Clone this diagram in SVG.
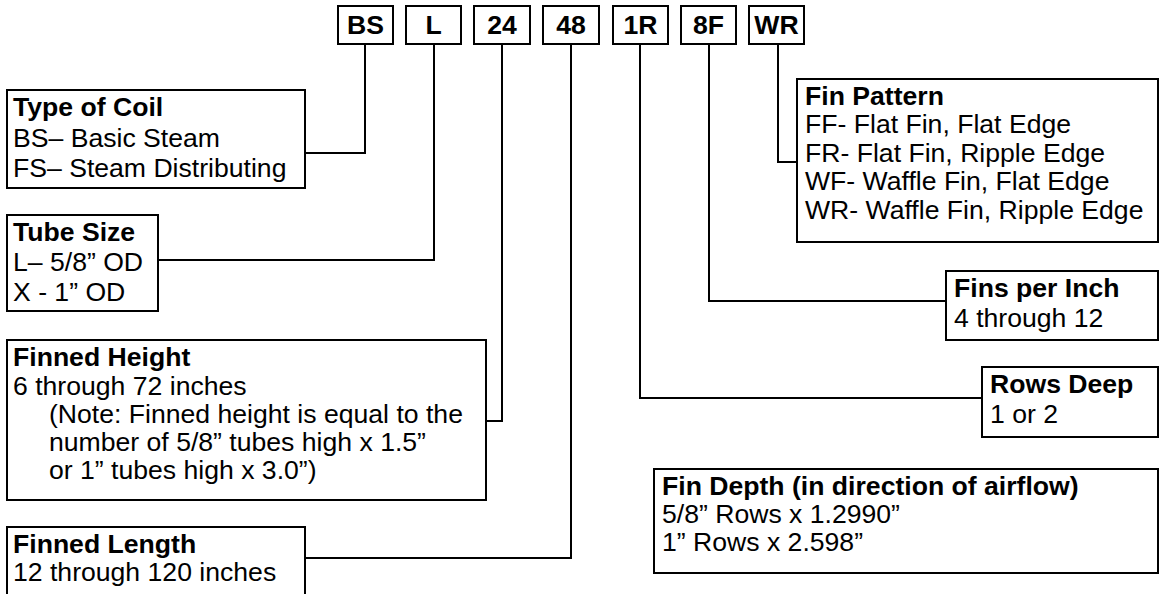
<svg xmlns="http://www.w3.org/2000/svg" width="1159" height="594" viewBox="0 0 1159 594">
<style>
rect{fill:#fff;stroke:#000;stroke-width:2}
.c path{fill:none;stroke:#000;stroke-width:2}
text{font-family:"Liberation Sans",Arial,sans-serif;font-size:26.6px;fill:#000}
.b{font-weight:bold}
.m{text-anchor:middle}
</style>
<rect x="0" y="0" width="1159" height="594" style="stroke:none"/>
<g class="c" id="connectors">
<path d="M365,44 V153 H305"/>
<path d="M434,44 V260 H158"/>
<path d="M502,44 V421 H486"/>
<path d="M571,44 V558 H305"/>
<path d="M640,44 V398 H982"/>
<path d="M709,44 V301 H946"/>
<path d="M778,44 V162 H797"/>
</g>
<g id="code-BS"><rect x="338" y="6" width="55" height="38"/><text class="b m" x="365.5" y="34">BS</text></g>
<g id="code-L"><rect x="406" y="6" width="55" height="38"/><text class="b m" x="433.5" y="34">L</text></g>
<g id="code-24"><rect x="474" y="6" width="56" height="38"/><text class="b m" x="502" y="34">24</text></g>
<g id="code-48"><rect x="543" y="6" width="56" height="38"/><text class="b m" x="571" y="34">48</text></g>
<g id="code-1R"><rect x="613" y="6" width="55" height="38"/><text class="b m" x="640.5" y="34">1R</text></g>
<g id="code-8F"><rect x="681" y="6" width="55" height="38"/><text class="b m" x="708.5" y="34">8F</text></g>
<g id="code-WR"><rect x="749" y="6" width="55" height="38"/><text class="b m" x="776.5" y="34">WR</text></g>

<g id="type-of-coil"><rect x="7" y="90" width="298" height="98"/>
<text class="b" x="13" y="116">Type of Coil</text>
<text x="13" y="147">BS– Basic Steam</text>
<text x="13" y="177">FS– Steam Distributing</text></g>

<g id="tube-size"><rect x="7" y="215" width="151" height="96"/>
<text class="b" x="13" y="241">Tube Size</text>
<text x="13" y="271">L– 5/8” OD</text>
<text x="13" y="301">X - 1” OD</text></g>

<g id="finned-height"><rect x="7" y="340" width="479" height="160"/>
<text class="b" x="13" y="366">Finned Height</text>
<text x="13" y="395">6 through 72 inches</text>
<text x="49" y="423">(Note: Finned height is equal to the</text>
<text x="49" y="451">number of 5/8” tubes high x 1.5”</text>
<text x="49" y="479">or 1” tubes high x 3.0”)</text></g>

<g id="finned-length"><rect x="7" y="527" width="298" height="80"/>
<text class="b" x="13" y="553">Finned Length</text>
<text x="13" y="581">12 through 120 inches</text></g>

<g id="fin-pattern"><rect x="797" y="79" width="361" height="163"/>
<text class="b" x="805" y="105">Fin Pattern</text>
<text x="805" y="133">FF- Flat Fin, Flat Edge</text>
<text x="805" y="162">FR- Flat Fin, Ripple Edge</text>
<text x="805" y="190">WF- Waffle Fin, Flat Edge</text>
<text x="805" y="219">WR- Waffle Fin, Ripple Edge</text></g>

<g id="fins-per-inch"><rect x="946" y="271" width="212" height="69"/>
<text class="b" x="954" y="297">Fins per Inch</text>
<text x="954" y="327">4 through 12</text></g>

<g id="rows-deep"><rect x="982" y="367" width="176" height="70"/>
<text class="b" x="990" y="393">Rows Deep</text>
<text x="990" y="423">1 or 2</text></g>

<g id="fin-depth"><rect x="654" y="469" width="504" height="104"/>
<text class="b" x="662" y="495">Fin Depth (in direction of airflow)</text>
<text x="662" y="523">5/8” Rows x 1.2990”</text>
<text x="662" y="551">1” Rows x 2.598”</text></g>
</svg>
